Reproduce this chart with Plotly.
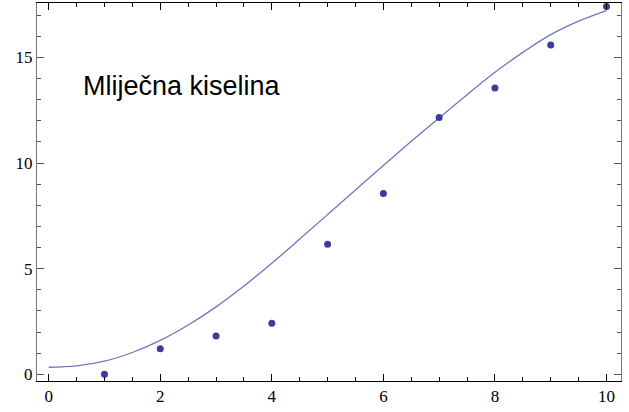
import plotly.graph_objects as go

# measured points
x_points = [1, 2, 3, 4, 5, 6, 7, 8, 9, 10]
y_points = [0.0, 1.21, 1.81, 2.42, 6.16, 8.56, 12.16, 13.55, 15.59, 17.41]

# fitted curve
x_curve = [0, 0.5, 1, 1.5, 2, 2.5, 3, 3.5, 4, 4.5, 5, 5.5, 6, 6.5, 7, 7.5, 8, 8.5, 9, 9.5, 10]
y_curve = [0.33, 0.40, 0.62, 1.03, 1.60, 2.33, 3.19, 4.18, 5.26, 6.40, 7.56, 8.73, 9.89,
           11.03, 12.14, 13.24, 14.30, 15.24, 16.08, 16.72, 17.22]

x_ticks = [0, 2, 4, 6, 8, 10]
y_ticks = [0, 5, 10, 15]
label_text = "Mliječna kiselina"

fig = go.Figure()
fig.add_trace(go.Scatter(x=x_curve, y=y_curve, mode="lines",
                         line=dict(color="#7474bc", width=1.3, shape="spline"),
                         hoverinfo="skip", showlegend=False))
fig.add_trace(go.Scatter(x=x_points, y=y_points, mode="markers",
                         marker=dict(color="#3c3c9c", size=7),
                         showlegend=False))

fig.add_annotation(x=0.586, y=13.64, xref="x", yref="y", text=label_text,
                   showarrow=False, xanchor="left", yanchor="middle",
                   font=dict(family="Liberation Sans, Arial", size=27, color="#000000"))

serif = "Liberation Serif, Times New Roman, serif"
fig.update_layout(
    width=629, height=412,
    margin=dict(l=37, r=8, t=3, b=31),
    paper_bgcolor="white", plot_bgcolor="white",
    xaxis=dict(range=[-0.21, 10.26], tickvals=x_ticks, showgrid=False, zeroline=False,
               showline=True, linecolor="#000000", linewidth=1, mirror="allticks",
               ticks="inside", ticklen=7, tickcolor="#000000", tickwidth=1,
               minor=dict(dtick=0.5, ticks="inside", ticklen=4, tickcolor="#000000", showgrid=False),
               tickfont=dict(family=serif, size=17, color="#000000")),
    yaxis=dict(range=[-0.32, 17.58], tickvals=y_ticks, showgrid=False, zeroline=False,
               showline=True, linecolor="#777777", linewidth=1, mirror="allticks",
               ticks="inside", ticklen=7, tickcolor="#555555", tickwidth=1,
               minor=dict(dtick=1, ticks="inside", ticklen=4, tickcolor="#555555", showgrid=False),
               tickfont=dict(family=serif, size=17, color="#000000")),
)

fig.write_html("out.html", config={"displayModeBar": False},
               post_script="document.body.style.margin='0';document.body.style.overflow='hidden';")
